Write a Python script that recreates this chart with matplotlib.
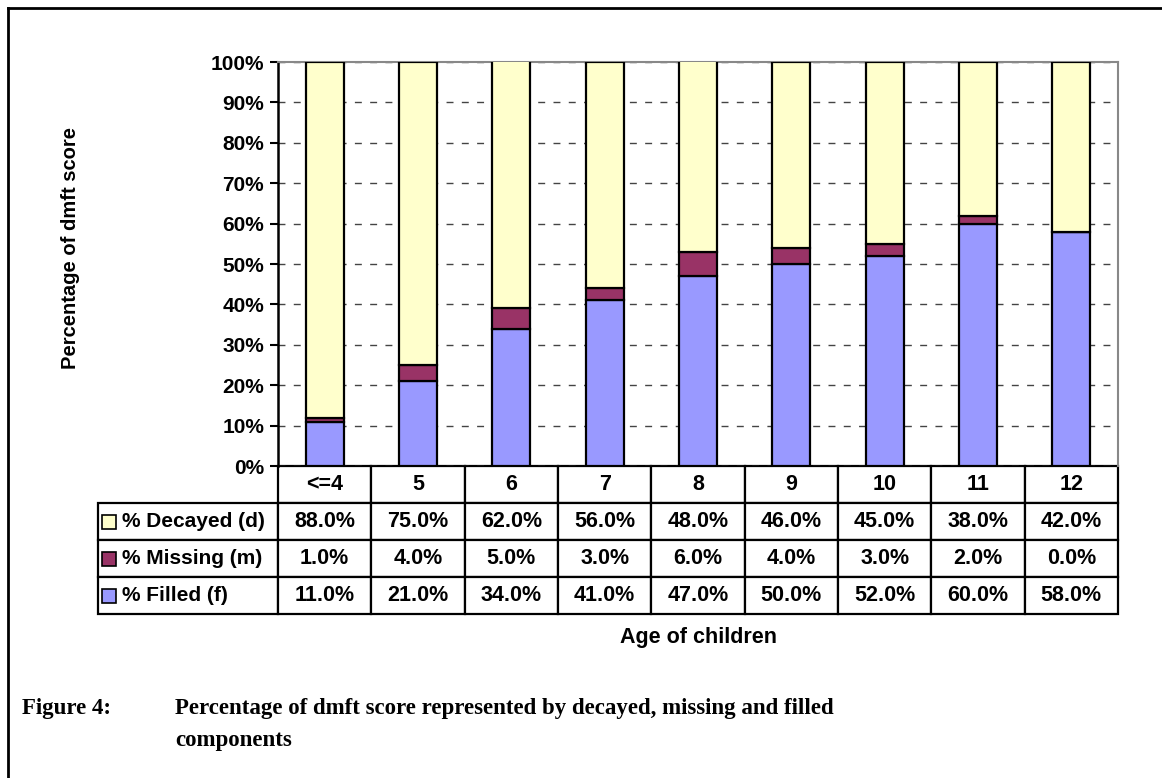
import numpy as np
import matplotlib
matplotlib.use("Agg")
import matplotlib.pyplot as plt
from matplotlib.table import Table
from matplotlib.patches import Rectangle
from matplotlib.lines import Line2D

plt.rcParams["font.family"] = ["Liberation Sans", "DejaVu Sans"]

ages = ["<=4", "5", "6", "7", "8", "9", "10", "11", "12"]
decayed = [88.0, 75.0, 62.0, 56.0, 48.0, 46.0, 45.0, 38.0, 42.0]
missing = [1.0, 4.0, 5.0, 3.0, 6.0, 4.0, 3.0, 2.0, 0.0]
filled = [11.0, 21.0, 34.0, 41.0, 47.0, 50.0, 52.0, 60.0, 58.0]

series = [
    ("% Decayed (d)", decayed, "#FFFFCC"),
    ("% Missing (m)", missing, "#993366"),
    ("% Filled (f)", filled, "#9999FF"),
]

W, H = 1162, 778
fig = plt.figure(figsize=(W / 100, H / 100), dpi=100)

# plot area in pixels: x 278..1118, y 62..466
ax = fig.add_axes([278 / W, 1 - 466 / H, 840 / W, 404 / H])

x = np.arange(len(ages))
f = np.array(filled)
m = np.array(missing)
d = np.array(decayed)
bw = 0.41
ax.bar(x, f, bw, color="#9999FF", edgecolor="black", linewidth=1.6, zorder=3)
ax.bar(x, m, bw, bottom=f, color="#993366", edgecolor="black", linewidth=1.6, zorder=3)
ax.bar(x, d, bw, bottom=f + m, color="#FFFFCC", edgecolor="black", linewidth=1.6, zorder=3)

ax.set_xlim(-0.5, len(ages) - 0.5)
ax.set_ylim(0, 100)
ax.set_yticks(np.arange(0, 101, 10))
ax.set_yticklabels([f"{v}%" for v in range(0, 101, 10)], fontsize=15, fontweight="bold")
ax.set_xticks([])
ax.tick_params(axis="y", length=6, width=1.5, direction="out", pad=4)
ax.yaxis.grid(True, linestyle=(0, (5, 6)), color="#444444", linewidth=1.0)
ax.set_axisbelow(True)
for side in ("top", "right"):
    ax.spines[side].set_color("#888888")
    ax.spines[side].set_linewidth(1.5)
ax.spines["left"].set_linewidth(1.8)
ax.spines["bottom"].set_visible(False)

# data table under the plot
label_w = 180 / 840
col_w = 1 / len(ages)
row_h = 37 / 404
table = Table(ax, bbox=[-label_w, -4 * row_h, 1 + label_w, 4 * row_h])
for j, age in enumerate(ages):
    table.add_cell(0, j + 1, col_w, row_h, text=age, loc="center")
for i, (name, vals, color) in enumerate(series):
    c = table.add_cell(i + 1, 0, label_w, row_h, text=name, loc="left")
    c.PAD = 24 / 180
    for j, v in enumerate(vals):
        table.add_cell(i + 1, j + 1, col_w, row_h, text=f"{v:.1f}%", loc="center")
table.auto_set_font_size(False)
table.set_fontsize(15.5)
for (r, col), cell in table.get_celld().items():
    cell.set_linewidth(1.6)
    cell.set_edgecolor("black")
    cell.get_text().set_fontweight("bold")
    if col == 0:
        cell.get_text().set_fontsize(15)
ax.add_table(table)

# legend keys inside the row label cells
sq_w = 14 / 840
sq_h = 14 / 404
for i, (name, vals, color) in enumerate(series):
    yc = -(i + 1.5) * row_h
    ax.add_patch(Rectangle((-label_w + 4 / 840, yc - sq_h / 2), sq_w, sq_h,
                           transform=ax.transAxes, facecolor=color,
                           edgecolor="black", linewidth=1.2, clip_on=False, zorder=5))

fig.text(70 / W, 1 - 248 / H, "Percentage of dmft score", rotation=90,
         ha="center", va="center", fontsize=14.5, fontweight="bold")
fig.text(698 / W, 1 - 638 / H, "Age of children", ha="center", va="center",
         fontsize=15.5, fontweight="bold")

cap_font = dict(family=["Liberation Serif", "DejaVu Serif"], fontsize=16.5, fontweight="bold")
fig.text(22 / W, 1 - 714 / H, "Figure 4:", ha="left", va="baseline", **cap_font)
fig.text(175 / W, 1 - 714 / H,
         "Percentage of dmft score represented by decayed, missing and filled",
         ha="left", va="baseline", **cap_font)
fig.text(175 / W, 1 - 746 / H, "components", ha="left", va="baseline", **cap_font)

# page frame
fig.add_artist(Line2D([8 / W, 8 / W], [0, 1 - 8 / H], color="black", linewidth=2))
fig.add_artist(Line2D([8 / W, 1], [1 - 8 / H, 1 - 8 / H], color="black", linewidth=2))

fig.savefig("out.png", dpi=100)
